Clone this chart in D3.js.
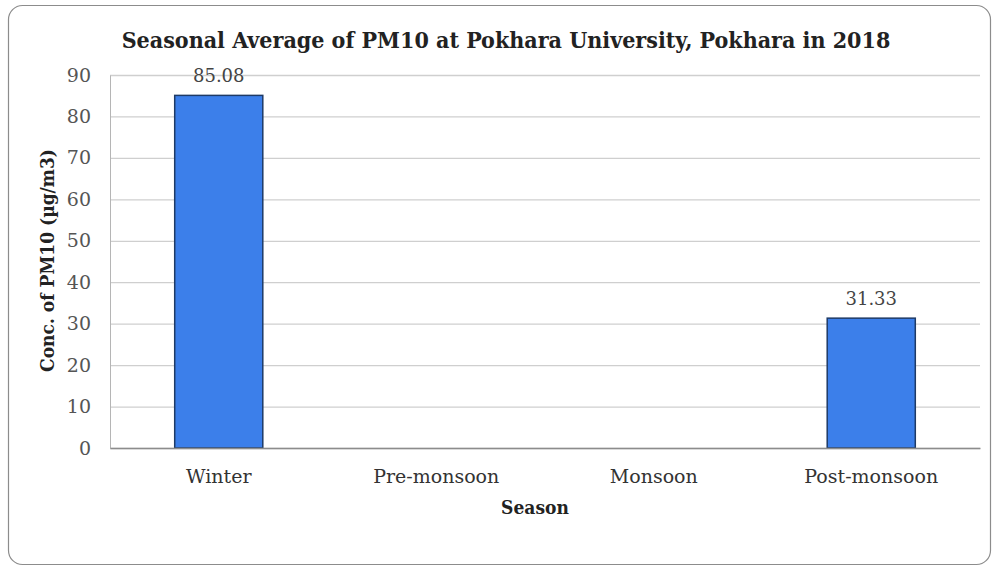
<!DOCTYPE html>
<meta charset="utf-8">
<script src="https://d3js.org/d3.v7.min.js"></script>
<style>
body { margin: 0; background: #fff; }
svg text { font-family: "DejaVu Serif", serif; }
svg text.cond { font-family: "DejaVu Serif Condensed", "DejaVu Serif", serif; }
</style>
<div id="chart"></div>
<script>
// data
var seasons = ["Winter", "Pre-monsoon", "Monsoon", "Post-monsoon"];
var pm10 = [85.08, null, null, 31.33];
var yTicks = [0, 10, 20, 30, 40, 50, 60, 70, 80, 90];

var W = 997, H = 569;
var margin = { top: 75, right: 17, bottom: 121, left: 110 };
var width = W - margin.left - margin.right,
    height = H - margin.top - margin.bottom;

var svg = d3.select("#chart").append("svg")
    .attr("width", W).attr("height", H);

// outer frame
svg.append("rect")
    .attr("x", 8.5).attr("y", 5.5)
    .attr("width", 982).attr("height", 559)
    .attr("rx", 14)
    .attr("fill", "#fff").attr("stroke", "#8c8c8c").attr("stroke-width", 1.2);

svg.append("text")
    .attr("class", "cond")
    .attr("x", 506).attr("y", 48)
    .attr("text-anchor", "middle")
    .attr("font-size", "23px").attr("font-weight", "bold")
    .attr("fill", "#222")
    .text("Seasonal Average of PM10 at Pokhara University, Pokhara in 2018");

var g = svg.append("g")
    .attr("transform", "translate(" + margin.left + "," + margin.top + ")");

var x = d3.scaleBand().domain(seasons).range([0, width]).padding(0);
var y = d3.scaleLinear().domain([0, 90]).range([height, 0]);

// gridlines
g.append("g")
    .call(d3.axisLeft(y).tickValues(yTicks).tickSize(-width).tickFormat(""))
    .call(function(a) {
        a.select(".domain").remove();
        a.selectAll("line").attr("stroke", "#cfcfcf").attr("stroke-width", 1.3);
    });

// y tick labels
g.append("g")
    .call(d3.axisLeft(y).tickValues(yTicks).tickSize(0).tickPadding(19))
    .call(function(a) {
        a.select(".domain").attr("stroke", "#b5b5b5");
        a.selectAll("text").attr("font-size", "19px").attr("fill", "#555")
            .style("font-family", "DejaVu Serif, serif");
    });

var barW = x.bandwidth() * 0.405;
var data = seasons.map(function(s, i) { return { season: s, value: pm10[i] }; })
    .filter(function(d) { return d.value != null; });

g.selectAll("rect.bar").data(data).enter().append("rect")
    .attr("class", "bar")
    .attr("x", function(d) { return x(d.season) + (x.bandwidth() - barW) / 2; })
    .attr("y", function(d) { return y(d.value); })
    .attr("width", barW)
    .attr("height", function(d) { return height - y(d.value); })
    .attr("fill", "#3c7fea")
    .attr("stroke", "#1e3a66").attr("stroke-width", 1.5);

g.selectAll("text.val").data(data).enter().append("text")
    .attr("class", "val")
    .attr("x", function(d) { return x(d.season) + x.bandwidth() / 2; })
    .attr("y", function(d) { return y(d.value) - 13; })
    .attr("text-anchor", "middle")
    .attr("font-size", "18px").attr("fill", "#444")
    .text(function(d) { return d.value.toFixed(2); });

// x axis
g.append("g")
    .attr("transform", "translate(0," + height + ")")
    .call(d3.axisBottom(x).tickSize(0).tickPadding(22))
    .call(function(a) {
        a.select(".domain").attr("stroke", "#8c8c8c").attr("stroke-width", 1.3);
        a.selectAll("text").attr("font-size", "19px").attr("fill", "#333")
            .style("font-family", "DejaVu Serif, serif");
    });

svg.append("text")
    .attr("class", "cond")
    .attr("x", margin.left + width / 2 - 10).attr("y", 514)
    .attr("text-anchor", "middle")
    .attr("font-size", "19px").attr("font-weight", "bold").attr("fill", "#222")
    .text("Season");

svg.append("text")
    .attr("class", "cond")
    .attr("transform", "translate(54," + (margin.top + height / 2 - 1) + ") rotate(-90)")
    .attr("text-anchor", "middle")
    .attr("font-size", "19px").attr("font-weight", "bold").attr("fill", "#222")
    .text("Conc. of PM10 (µg/m3)");
</script>
